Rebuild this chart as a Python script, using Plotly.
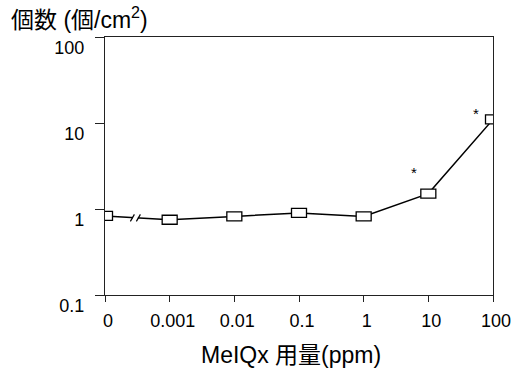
import numpy as np
import plotly.graph_objects as go

categories = ["0", "0.001", "0.01", "0.1", "1", "10", "100"]
counts = [0.83, 0.75, 0.82, 0.90, 0.82, 1.51, 11.0]
significant = [False, False, False, False, False, True, True]
y_ticks = [0.1, 1, 10, 100]
y_tick_labels = ["0.1", "1", "10", "100"]

FONT = "Liberation Sans, Arial, Noto Sans CJK JP, sans-serif"
W, H = 512, 369
ML, MR, MT, MB = 105, 19, 37, 74
xs = list(range(len(categories)))
XR = [0, len(categories) - 1]
YR = [-1, 2]
px_x = (W - ML - MR) / (XR[1] - XR[0])   # pixels per category step
px_y = (H - MT - MB) / (YR[1] - YR[0])   # pixels per decade


def yoff(v, pix):
    """data value shifted by pix pixels on the log axis"""
    return v * 10 ** (pix / px_y)


fig = go.Figure()
fig.add_trace(go.Scatter(x=xs, y=counts, mode="lines",
                         line=dict(color="black", width=1.5),
                         hoverinfo="skip", showlegend=False))

shapes = []
# rectangular markers (15 x 9 px)
for x, y in zip(xs, counts):
    shapes.append(dict(type="rect", xref="x", yref="y",
                       x0=x - 7.5 / px_x, x1=x + 7.5 / px_x,
                       y0=yoff(y, -4.5), y1=yoff(y, 4.5),
                       line=dict(color="black", width=1.3),
                       fillcolor="white", layer="above"))

# axis break mark between first two categories
bx = (xs[0] + xs[1]) / 2 - 0.03
by = float(np.sqrt(counts[0] * counts[1]))
shapes.append(dict(type="line", xref="x", yref="y",
                   x0=bx - 2.5 / px_x, x1=bx + 2.5 / px_x, y0=by, y1=by,
                   line=dict(color="white", width=3), layer="above"))
for dx in (-3, 3):
    shapes.append(dict(type="line", xref="x", yref="y",
                       x0=bx + (dx - 2) / px_x, x1=bx + (dx + 2) / px_x,
                       y0=yoff(by, -3.5), y1=yoff(by, 3.5),
                       line=dict(color="black", width=1.2), layer="above"))

annotations = []
for x, y, s in zip(xs, counts, significant):
    if s:
        annotations.append(dict(x=x, y=np.log10(y), xref="x", yref="y",
                                text="*", showarrow=False,
                                xshift=-14 if y < 5 else -17,
                                yshift=21 if y < 5 else 6,
                                font=dict(size=15, color="black", family=FONT)))

annotations.append(dict(x=0.5, y=0, xref="paper", yref="paper",
                        text="MeIQx 用量(ppm)", showarrow=False,
                        xanchor="center", yanchor="middle",
                        xshift=-8, yshift=-60,
                        font=dict(size=23, color="black", family=FONT)))

fig.update_layout(
    width=W, height=H,
    margin=dict(l=ML, r=MR, t=MT, b=MB, autoexpand=False),
    paper_bgcolor="white", plot_bgcolor="white",
    font=dict(family=FONT, size=18, color="black"),
    shapes=shapes, annotations=annotations,
    title=dict(text="個数 (個/cm<sup>2</sup>)", x=11 / W, xanchor="left",
               y=1 - 20 / H, yanchor="middle", yref="container",
               font=dict(size=23, family=FONT, color="black")),
    xaxis=dict(range=XR, tickmode="array", tickvals=xs, ticktext=categories,
               showline=True, linecolor="#222", linewidth=1.3, mirror=True,
               ticks="outside", ticklen=6, tickcolor="#222", tickwidth=1.3,
               showgrid=False, zeroline=False, automargin=False,
               tickfont=dict(size=18), ticklabelstandoff=3, ticklabelshift=3),
    yaxis=dict(type="log", range=YR, tickmode="array",
               tickvals=y_ticks, ticktext=y_tick_labels,
               showline=True, linecolor="#222", linewidth=1.3, mirror=True,
               ticks="outside", ticklen=9, tickcolor="#222", tickwidth=1.3,
               showgrid=False, zeroline=False, automargin=False,
               tickfont=dict(size=18), ticklabelshift=11, ticklabelstandoff=7),
)

fig.write_html("out.html")
